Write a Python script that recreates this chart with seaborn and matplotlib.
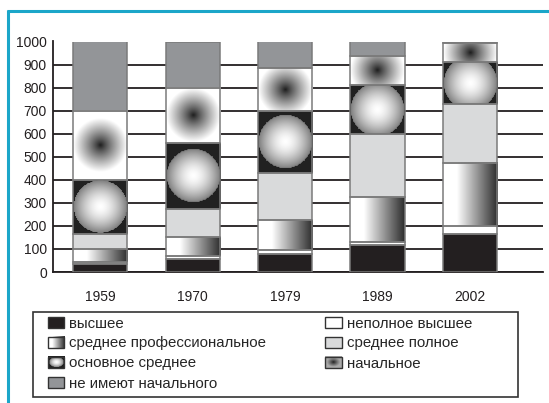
import numpy as np
import pandas as pd
import matplotlib
matplotlib.use('Agg')
import matplotlib.pyplot as plt
import seaborn as sns
from matplotlib.patches import Rectangle, Patch
from matplotlib.lines import Line2D
from matplotlib.legend_handler import HandlerBase
from matplotlib.image import BboxImage
from matplotlib.transforms import Bbox, TransformedBbox

# ---- data (per 1000 persons) ----
years = ['1959', '1970', '1979', '1989', '2002']
vysshee = [33, 57, 78, 117, 165]
nepolnoe_vysshee = [10, 13, 17, 15, 33]
srednee_prof = [55, 80, 130, 195, 277]
srednee_polnoe = [65, 122, 204, 273, 255]
osnovnoe_srednee = [237, 288, 271, 210, 180]
nachalnoe = [300, 240, 185, 128, 82]
ne_imeyut = [300, 200, 115, 62, 8]

categories = ['высшее', 'неполное высшее', 'среднее профессиональное',
              'среднее полное', 'основное среднее', 'начальное',
              'не имеют начального']
yticks = [0, 100, 200, 300, 400, 500, 600, 700, 800, 900, 1000]

layers = [vysshee, nepolnoe_vysshee, srednee_prof, srednee_polnoe,
          osnovnoe_srednee, nachalnoe, ne_imeyut]

sns.set_theme(style='white')
plt.rcParams['font.family'] = ['Liberation Sans', 'DejaVu Sans']

W, H = 549, 403
fig = plt.figure(figsize=(W / 100, H / 100), dpi=100)
ax = fig.add_axes([53 / W, 1 - 272 / H, (543 - 53) / W, (272 - 41.5) / H])

BLACK = '#231f20'
EDGE = '#7a7a7a'
BK = 0.13
solid = {'высшее': BLACK, 'неполное высшее': 'white',
         'среднее полное': '#d9dadb', 'не имеют начального': '#939598'}


def rgb(v):
    return np.dstack([v, v, v])


def grad_horiz(h, w):
    x = np.linspace(0, 1, max(w, 2))
    v = np.where(x < 0.25, 1.0, 1.0 - (x - 0.25) / 0.75 * 0.82)
    return rgb(np.tile(v, (max(h, 2), 1)))


def circle_white(h, w, ellipse=False):
    h, w = max(h, 2), max(w, 2)
    yy, xx = np.mgrid[0:h, 0:w] + 0.5
    if ellipse:
        r = np.hypot((xx - w / 2) / (w / 2 * 0.85), (yy - h / 2) / (h / 2 * 0.85))
    else:
        R = w / 2 * 0.97
        r = np.hypot(xx - w / 2, yy - h / 2) / R
    v = np.where(r <= 1, 1.0 - 0.5 * np.clip(r, 0, 1) ** 1.6, BK)
    return rgb(v)


def radial_dark(h, w, ellipse=False):
    h, w = max(h, 2), max(w, 2)
    yy, xx = np.mgrid[0:h, 0:w] + 0.5
    if ellipse:
        r = np.hypot((xx - w / 2) / (w / 2 * 0.8), (yy - h / 2) / (h / 2 * 0.8))
        v = 0.12 + 0.55 * np.clip(r, 0, 1) ** 0.9
    else:
        R = w / 2 * 0.98
        r = np.hypot(xx - w / 2, yy - h / 2) / R
        v = 0.1 + 0.9 * np.clip(r, 0, 1) ** 0.85
    return rgb(v)


gradient = {'среднее профессиональное': grad_horiz,
            'основное среднее': circle_white,
            'начальное': radial_dark}

XL = (-0.51, 4.79)
ax.set_xlim(*XL)
ax.set_ylim(0, 1000)

cum = np.cumsum(np.array(layers), axis=0)

layer_patches = {}
for i in range(len(categories) - 1, -1, -1):
    cat = categories[i]
    n0 = len(ax.patches)
    sns.barplot(x=years, y=cum[i], color=solid.get(cat, 'white'),
                saturation=1, width=0.585, errorbar=None, linewidth=0,
                ax=ax, zorder=2)
    layer_patches[i] = ax.patches[n0:]

ax.set_xlim(*XL)
ax.set_ylim(0, 1000)

# segment images and outlines
for i, cat in enumerate(categories):
    for j, p in enumerate(layer_patches[i]):
        x0 = p.get_x()
        w = p.get_width()
        top = p.get_y() + p.get_height()
        bot = (layer_patches[i - 1][j].get_y() + layer_patches[i - 1][j].get_height()) if i > 0 else 0
        if top - bot <= 0:
            continue
        if cat in gradient:
            (px0, py0) = ax.transData.transform((x0, bot))
            (px1, py1) = ax.transData.transform((x0 + w, top))
            img = gradient[cat](int(round(abs(py1 - py0))), int(round(px1 - px0)))
            ax.imshow(img, extent=(x0, x0 + w, bot, top), aspect='auto',
                      interpolation='bilinear', zorder=3, origin='upper')
        ax.add_patch(Rectangle((x0, bot), w, top - bot, fill=False,
                               edgecolor=EDGE, linewidth=1.1, zorder=4))

ax.set_xlim(*XL)
ax.set_ylim(0, 1000)
ax.set_yticks(yticks)
ax.set_yticklabels([str(t) for t in yticks])
ax.set_xlabel('')
ax.set_ylabel('')
ax.grid(False)
for t in yticks:
    ax.axhline(t, color=BLACK, linewidth=1.3, zorder=1)
for s in ['top', 'right']:
    ax.spines[s].set_visible(False)
for s in ['left', 'bottom']:
    ax.spines[s].set_color(BLACK)
    ax.spines[s].set_linewidth(1.3)
ax.tick_params(axis='y', length=0, pad=4.5, labelsize=10, colors=BLACK)
ax.tick_params(axis='x', length=0, pad=13, labelsize=10, colors=BLACK)
ax.set_facecolor('white')


# ---- legend with gradient swatches ----
class GradHandler(HandlerBase):
    def __init__(self, func):
        super().__init__()
        self.func = func

    def create_artists(self, legend, orig_handle, xdescent, ydescent,
                       width, height, fontsize, trans):
        bb = Bbox.from_bounds(-xdescent, -ydescent, width, height)
        tbb = TransformedBbox(bb, trans)
        im = BboxImage(tbb, interpolation='bilinear')
        im.set_data(self.func(24, 34, ellipse=True) if self.func is not grad_horiz
                    else grad_horiz(24, 34))
        rect = Rectangle((-xdescent, -ydescent), width, height, fill=False,
                         edgecolor='#333333', linewidth=1.0, transform=trans)
        return [im, rect]


handles = {}
handler_map = {}
for cat in categories:
    if cat in solid:
        h = Patch(facecolor=solid[cat], edgecolor='#333333', linewidth=1.0, label=cat)
    else:
        h = Patch(facecolor='white', label=cat)
        handler_map[h] = GradHandler(gradient[cat])
    handles[cat] = h

order = ['высшее', 'среднее профессиональное', 'основное среднее',
         'не имеют начального', 'неполное высшее', 'среднее полное', 'начальное']
fig.legend([handles[c] for c in order], order, handler_map=handler_map,
           loc='upper left', bbox_to_anchor=(47.5 / W, 1 - 316.5 / H),
           ncol=2, frameon=False, fontsize=10.8, borderpad=0, borderaxespad=0,
           handlelength=1.13, handleheight=0.78, handletextpad=0.3,
           labelspacing=0.4, columnspacing=3.95)

fig.add_artist(Rectangle((33 / W, 1 - 397 / H), (518 - 33) / W, (397 - 312) / H,
                         transform=fig.transFigure, fill=False,
                         edgecolor='#333333', linewidth=1.2))

TEAL = '#1ba6c9'
fig.add_artist(Line2D([8 / W, 8 / W], [0, 1 - 10 / H], color=TEAL, linewidth=2.2,
                      transform=fig.transFigure, solid_capstyle='butt'))
fig.add_artist(Line2D([7 / W, 1], [1 - 11 / H, 1 - 11 / H], color=TEAL, linewidth=2.2,
                      transform=fig.transFigure, solid_capstyle='butt'))

fig.savefig('out.png', dpi=100, facecolor='white')
